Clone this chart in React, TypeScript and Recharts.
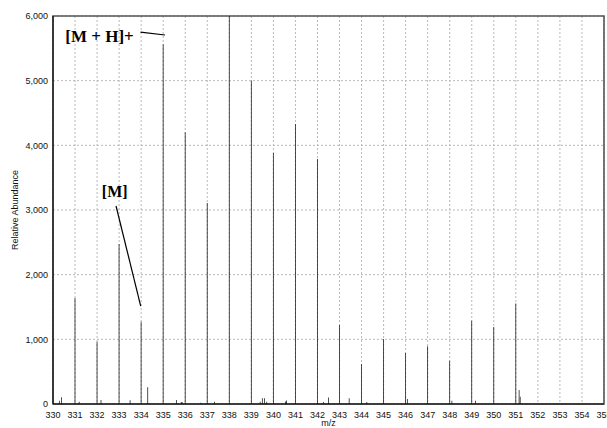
import React from 'react';
import {
  BarChart, Bar, XAxis, YAxis, CartesianGrid, ReferenceLine, ReferenceDot, ReferenceArea, Label,
} from 'recharts';

const mzValues = [
  330.29, 330.39, 331.0, 331.19, 332.0, 332.18, 333.0, 333.5, 334.0, 334.3,
  335.0, 335.6, 335.82, 335.86, 336.0, 336.71, 337.0, 337.33, 338.0, 339.0,
  339.4, 339.5, 339.6, 339.7, 340.0, 340.55, 340.6, 341.0, 342.0, 342.27,
  342.5, 343.0, 343.44, 344.0, 344.24, 345.0, 346.0, 346.08, 347.0, 348.0,
  348.1, 349.0, 349.17, 350.0, 351.0, 351.15, 351.2,
];
const abundanceValues = [
  52, 103, 1640, 36, 963, 62, 2475, 57, 1272, 258,
  5564, 62, 31, 31, 4204, 20, 3107, 36, 6000, 5000,
  36, 88, 88, 36, 3880, 40, 55, 4328, 3787, 30,
  100, 1221, 88, 618, 30, 1005, 788, 77, 893, 670,
  52, 1288, 52, 1190, 1556, 216, 113,
];
const xTicks = [330, 331, 332, 333, 334, 335, 336, 337, 338, 339, 340, 341, 342, 343, 344, 345, 346, 347, 348, 349, 350, 351, 352, 353, 354, 355];
const yTicks = [0, 1000, 2000, 3000, 4000, 5000, 6000];
const annotations = [
  { text: '[M + H]+', x: 332.11, y: 5690, size: 17, from: [333.97, 5752], to: [335.08, 5706] },
  { text: '[M]', x: 332.8, y: 3290, size: 16, from: [332.86, 3062], to: [333.98, 1515] },
];

const data = mzValues.map((mz, i) => ({ mz, abundance: abundanceValues[i] }));

const tickStyle = { fontFamily: '"Liberation Sans", Arial, sans-serif', fontSize: 9, fill: '#111' };

export default function App() {
  return (
    <div style={{ position: 'absolute', left: 0, top: 0 }}>
      <BarChart
        width={607}
        height={428}
        data={data}
        margin={{ top: 16, right: 3, bottom: 0, left: 0 }}
        barCategoryGap={0}
      >
        <CartesianGrid stroke="#b8b8b8" strokeDasharray="2 2" />
        <ReferenceArea x1={330} x2={355} y1={0} y2={6000} fill="none" stroke="#555" strokeWidth={1.6} ifOverflow="visible" />
        <XAxis
          dataKey="mz"
          type="number"
          domain={[330, 355]}
          ticks={xTicks}
          interval={0}
          allowDataOverflow
          height={24}
          tickLine={false}
          tickSize={0}
          tickMargin={8}
          axisLine={{ stroke: '#000' }}
          tick={tickStyle}
        >
          <Label value="m/z" position="insideBottom" offset={2} style={{ ...tickStyle, fontSize: 9 }} />
        </XAxis>
        <YAxis
          type="number"
          domain={[0, 6000]}
          ticks={yTicks}
          interval={0}
          allowDataOverflow
          width={53}
          tickLine={false}
          tickSize={0}
          tickMargin={5}
          axisLine={{ stroke: '#000' }}
          tick={tickStyle}
          tickFormatter={(v: number) => v.toLocaleString('en-US')}
        >
          <Label
            value="Relative Abundance"
            angle={-90}
            position="insideLeft"
            offset={15}
            style={{ ...tickStyle, fontSize: 9, textAnchor: 'middle' }}
          />
        </YAxis>
        <Bar dataKey="abundance" fill="#222" barSize={1} isAnimationActive={false} />
        {annotations.map((a) => (
          <ReferenceLine
            key={a.text + '-line'}
            segment={[{ x: a.from[0], y: a.from[1] }, { x: a.to[0], y: a.to[1] }]}
            stroke="#000"
            strokeWidth={1.2}
            ifOverflow="visible"
          />
        ))}
        {annotations.map((a) => (
          <ReferenceDot
            key={a.text + '-dot'}
            x={a.x}
            y={a.y}
            r={0}
            fill="none"
            stroke="none"
            ifOverflow="visible"
          >
            <Label
              value={a.text}
              position="center"
              style={{
                fontFamily: '"Liberation Serif", "Times New Roman", serif',
                fontWeight: 'bold',
                fontSize: a.size,
                fill: '#000',
              }}
            />
          </ReferenceDot>
        ))}
      </BarChart>
    </div>
  );
}
